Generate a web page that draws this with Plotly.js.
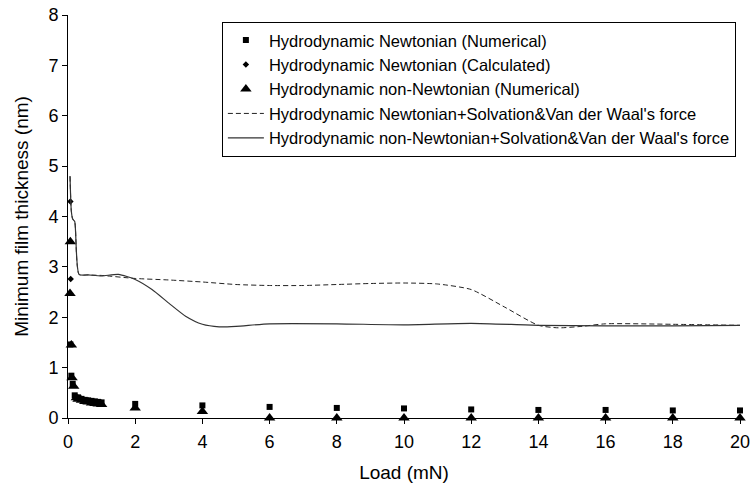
<!DOCTYPE html>
<html>
<head>
<meta charset="utf-8">
<script src="https://cdn.plot.ly/plotly-3.0.1.min.js"></script>
<style>
  html, body { margin: 0; padding: 0; background: #fff; }
  #chart { width: 751px; height: 486px; }
</style>
</head>
<body>
<div id="chart"></div>
<script>
// Load (mN) and minimum film thickness (nm)
const newtNumLoad = [0.07, 0.1, 0.14, 0.2, 0.3, 0.4, 0.5, 0.6, 0.7, 0.8, 0.9, 1.0, 2, 4, 6, 8, 10, 12, 14, 16, 18, 20];
const newtNumH    = [1.46, 0.84, 0.68, 0.45, 0.41, 0.38, 0.36, 0.35, 0.34, 0.33, 0.32, 0.31, 0.28, 0.25, 0.22, 0.2, 0.19, 0.17, 0.16, 0.16, 0.15, 0.15];

const newtCalcLoad = [0.07, 0.08];
const newtCalcH    = [4.3, 2.76];

const nonNewtNumLoad = [0.07, 0.06, 0.1, 0.12, 0.17, 0.25, 0.3, 0.4, 0.5, 0.6, 0.7, 0.8, 0.9, 1.0, 2, 4, 6, 8, 10, 12, 14, 16, 18, 20];
const nonNewtNumH    = [3.5, 2.47, 1.45, 0.8, 0.63, 0.4, 0.37, 0.35, 0.33, 0.32, 0.3, 0.29, 0.28, 0.27, 0.2, 0.13, 0, 0, 0, 0, 0, 0, 0, 0];

const newtSolvLoad = [0.06, 0.1, 0.14, 0.2, 0.33, 0.6, 1.0, 2, 3, 4, 5, 6, 7, 8, 9, 10, 11, 12, 13, 14, 14.6, 15.3, 16, 18, 20];
const newtSolvH    = [4.8, 4.1, 3.95, 3.9, 2.85, 2.84, 2.83, 2.77, 2.74, 2.7, 2.65, 2.63, 2.63, 2.65, 2.67, 2.68, 2.66, 2.55, 2.2, 1.84, 1.79, 1.82, 1.87, 1.86, 1.84];

const nonNewtSolvLoad = [0.06, 0.1, 0.14, 0.2, 0.33, 0.6, 1.0, 1.5, 2, 2.5, 3, 3.5, 4, 4.5, 5, 6, 8, 10, 12, 14, 16, 18, 20];
const nonNewtSolvH    = [4.8, 4.1, 3.95, 3.9, 2.85, 2.84, 2.82, 2.85, 2.75, 2.55, 2.28, 2.02, 1.86, 1.81, 1.82, 1.87, 1.87, 1.85, 1.88, 1.84, 1.83, 1.83, 1.84];

const xTicks = [0, 2, 4, 6, 8, 10, 12, 14, 16, 18, 20];
const yTicks = [0, 1, 2, 3, 4, 5, 6, 7, 8];

const font = 'Liberation Sans, Arial, sans-serif';

const traces = [
  {
    x: newtNumLoad, y: newtNumH, type: 'scatter', mode: 'markers',
    name: 'Hydrodynamic Newtonian (Numerical)',
    marker: { symbol: 'square', size: 6, color: '#000' },
    cliponaxis: false
  },
  {
    x: newtCalcLoad, y: newtCalcH, type: 'scatter', mode: 'markers',
    name: 'Hydrodynamic Newtonian (Calculated)',
    marker: { symbol: 'diamond', size: 5, color: '#000' },
    cliponaxis: false
  },
  {
    x: nonNewtNumLoad, y: nonNewtNumH, type: 'scatter', mode: 'markers',
    name: 'Hydrodynamic non-Newtonian (Numerical)',
    marker: { symbol: 'triangle-up', size: 10, color: '#000' },
    cliponaxis: false
  },
  {
    x: newtSolvLoad, y: newtSolvH, type: 'scatter', mode: 'lines',
    name: "Hydrodynamic Newtonian+Solvation&Van der Waal's force",
    line: { color: '#222', width: 1, dash: '5px,3px', shape: 'spline', smoothing: 0.6 }
  },
  {
    x: nonNewtSolvLoad, y: nonNewtSolvH, type: 'scatter', mode: 'lines',
    name: "Hydrodynamic non-Newtonian+Solvation&Van der Waal's force",
    line: { color: '#333', width: 1.2, shape: 'spline', smoothing: 0.6 }
  }
];

const layout = {
  width: 751, height: 486,
  margin: { l: 68, r: 11, t: 15, b: 68 },
  paper_bgcolor: '#fff', plot_bgcolor: '#fff',
  font: { family: font, color: '#000', size: 18 },
  showlegend: true,
  legend: {
    x: 0.229, y: 0.983, xanchor: 'left', yanchor: 'top',
    bordercolor: '#000', borderwidth: 1, bgcolor: '#fff',
    font: { family: font, size: 16.5, color: '#000' },
    tracegroupgap: 0, itemwidth: 36
  },
  xaxis: {
    range: [0, 20], tickvals: xTicks, ticktext: xTicks.map(String),
    showgrid: false, zeroline: false,
    showline: true, linecolor: '#000', linewidth: 1,
    ticks: 'outside', ticklen: 5, tickcolor: '#000',
    ticklabelstandoff: 2,
    tickfont: { family: font, size: 18, color: '#000' },
    title: { text: 'Load (mN)', font: { family: font, size: 19, color: '#000' }, standoff: 15 }
  },
  yaxis: {
    range: [0, 8], tickvals: yTicks, ticktext: yTicks.map(String),
    showgrid: false, zeroline: false,
    showline: true, linecolor: '#000', linewidth: 1,
    ticks: 'outside', ticklen: 5, tickcolor: '#000',
    tickfont: { family: font, size: 18, color: '#000' },
    title: { text: 'Minimum film thickness (nm)', font: { family: font, size: 19, color: '#000' }, standoff: 14 }
  }
};

Plotly.newPlot('chart', traces, layout, { displayModeBar: false, staticPlot: true });
</script>
</body>
</html>
